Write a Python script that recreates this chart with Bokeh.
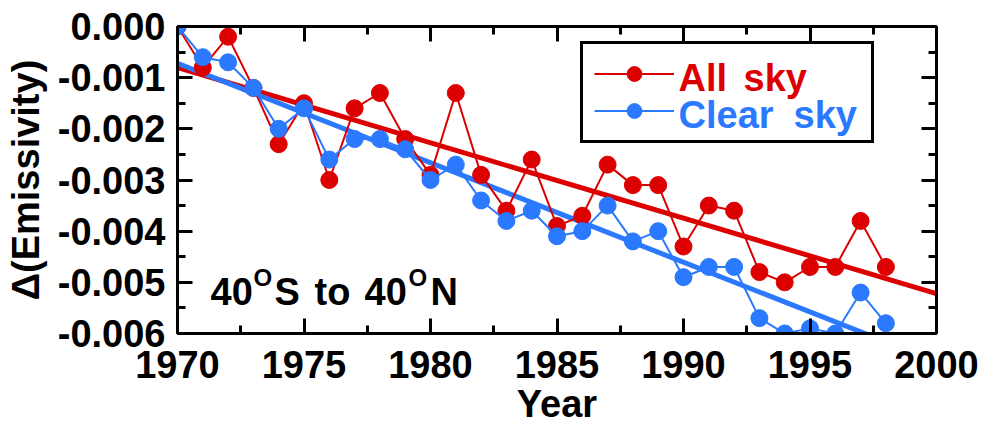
from bokeh.plotting import figure
from bokeh.models import (Range1d, LinearAxis, SingleIntervalTicker, PrintfTickFormatter,
                          CustomJSTickFormatter, Legend, LegendItem, Label, ColumnDataSource)
from bokeh.embed import file_html
from bokeh.resources import INLINE

# ---- data ----
years = list(range(1970, 1999))
all_sky = [0.0, -0.0008, -0.0002, -0.0012, -0.0023, -0.0015, -0.0030, -0.0016, -0.0013, -0.0022,
           -0.0029, -0.0013, -0.0029, -0.0036, -0.0026, -0.0039, -0.0037, -0.0027, -0.0031, -0.0031,
           -0.0043, -0.0035, -0.0036, -0.0048, -0.0050, -0.0047, -0.0047, -0.0038, -0.0047]
clear_sky = [0.0, -0.0006, -0.0007, -0.0012, -0.0020, -0.0016, -0.0026, -0.0022, -0.0022, -0.0024,
             -0.0030, -0.0027, -0.0034, -0.0038, -0.0036, -0.0041, -0.0040, -0.0035, -0.0042, -0.0040,
             -0.0049, -0.0047, -0.0047, -0.0057, -0.0060, -0.0059, -0.0060, -0.0052, -0.0058]
trend_years = [1970, 2000]
all_trend = [-0.0008, -0.00522]
clear_trend = [-0.00072, -0.00655]
series_names = ["All sky", "Clear sky"]

RED = "#DD0000"
BLUE = "#2A79FF"
FONT = "Liberation Sans"

p = figure(frame_width=759, frame_height=307, output_backend="svg", toolbar_location=None,
           x_range=Range1d(1970, 2000), y_range=Range1d(-0.006, 0.0),
           min_border_left=177, min_border_right=58, min_border_top=26, min_border_bottom=93,
           background_fill_color="white", border_fill_color="white")
p.outline_line_color = None
p.xgrid.visible = False
p.ygrid.visible = False

xt = SingleIntervalTicker(interval=5, num_minor_ticks=2)
yt = SingleIntervalTicker(interval=0.001, num_minor_ticks=2)

def style_axis(ax, labels=True):
    ax.axis_line_width = 3
    ax.axis_line_color = "black"
    ax.major_tick_line_width = 3
    ax.minor_tick_line_width = 3
    ax.major_tick_in = 15
    ax.major_tick_out = 0
    ax.minor_tick_in = 8
    ax.minor_tick_out = 0
    if labels:
        ax.major_label_text_font = FONT
        ax.major_label_text_font_style = "bold"
        ax.major_label_text_font_size = "38px"
        ax.major_label_text_color = "black"
        ax.axis_label_text_font = FONT
        ax.axis_label_text_font_style = "bold"
        ax.axis_label_text_font_size = "38px"
        ax.axis_label_text_color = "black"
    else:
        ax.formatter = CustomJSTickFormatter(code="return ''")
        ax.major_label_standoff = 0

xa = p.xaxis[0]
xa.ticker = xt
xa.axis_label = "Year"
style_axis(xa)
xa.major_label_standoff = 17
xa.axis_label_standoff = 2

ya = p.yaxis[0]
ya.ticker = yt
ya.formatter = PrintfTickFormatter(format="%.3f")
ya.axis_label = "Δ(Emissivity)"
style_axis(ya)
ya.major_label_standoff = 12
ya.axis_label_standoff = 8

top = LinearAxis(ticker=xt)
style_axis(top, labels=False)
p.add_layout(top, "above")
right = LinearAxis(ticker=yt)
style_axis(right, labels=False)
p.add_layout(right, "right")

# trends
p.line(trend_years, all_trend, line_color=RED, line_width=5)
p.line(trend_years, clear_trend, line_color=BLUE, line_width=5)

src_a = ColumnDataSource(dict(x=years, y=all_sky))
src_c = ColumnDataSource(dict(x=years, y=clear_sky))
la = p.line("x", "y", source=src_a, line_color=RED, line_width=2)
ca = p.scatter("x", "y", source=src_a, size=17, fill_color=RED, line_color=RED)
lc = p.line("x", "y", source=src_c, line_color=BLUE, line_width=2)
cc = p.scatter("x", "y", source=src_c, size=17, fill_color=BLUE, line_color=BLUE)

legend = Legend(items=[LegendItem(label=series_names[0], renderers=[la, ca]),
                       LegendItem(label=series_names[1], renderers=[lc, cc])],
                location=(403, 190), orientation="vertical",
                label_text_font=FONT, label_text_font_size="14px", label_text_alpha=0.0,
                label_width=179, label_height=37,
                glyph_width=80, glyph_height=37, label_standoff=7, spacing=0,
                padding=11, margin=0, border_line_color="black", border_line_width=3,
                border_line_alpha=1.0,
                background_fill_color="white", background_fill_alpha=0.0)
p.add_layout(legend, "center")

def px2x(px):
    return 1970 + (px - 177) / 759 * 30

def py2y(py):
    return -(py - 26) / 307 * 0.006

# coloured legend labels (per-word placement like the reference)
leg_words = [("All", 678, 77, RED), ("sky", 743, 77, RED),
             ("Clear", 678, 114, BLUE), ("sky", 793, 114, BLUE)]
for t, px, py, col in leg_words:
    p.add_layout(Label(x=px2x(px), y=py2y(py), text=t, text_font=FONT, text_font_style="bold",
                       text_font_size="38px", text_color=col, text_align="left",
                       text_baseline="alphabetic"))

# region label
pieces = [("40", 210, 291, "38px"), ("O", 253, 277, "24px"), ("S", 274, 291, "38px"),
          ("to", 314, 291, "38px"), ("40", 364, 291, "38px"), ("O", 408, 277, "24px"),
          ("N", 430, 291, "38px")]
for t, px, py, fs in pieces:
    p.add_layout(Label(x=px2x(px), y=py2y(py), text=t, text_font=FONT, text_font_style="bold",
                       text_font_size=fs, text_color="black", text_align="left",
                       text_baseline="alphabetic"))

open("out.html", "w").write(file_html(p, INLINE))
